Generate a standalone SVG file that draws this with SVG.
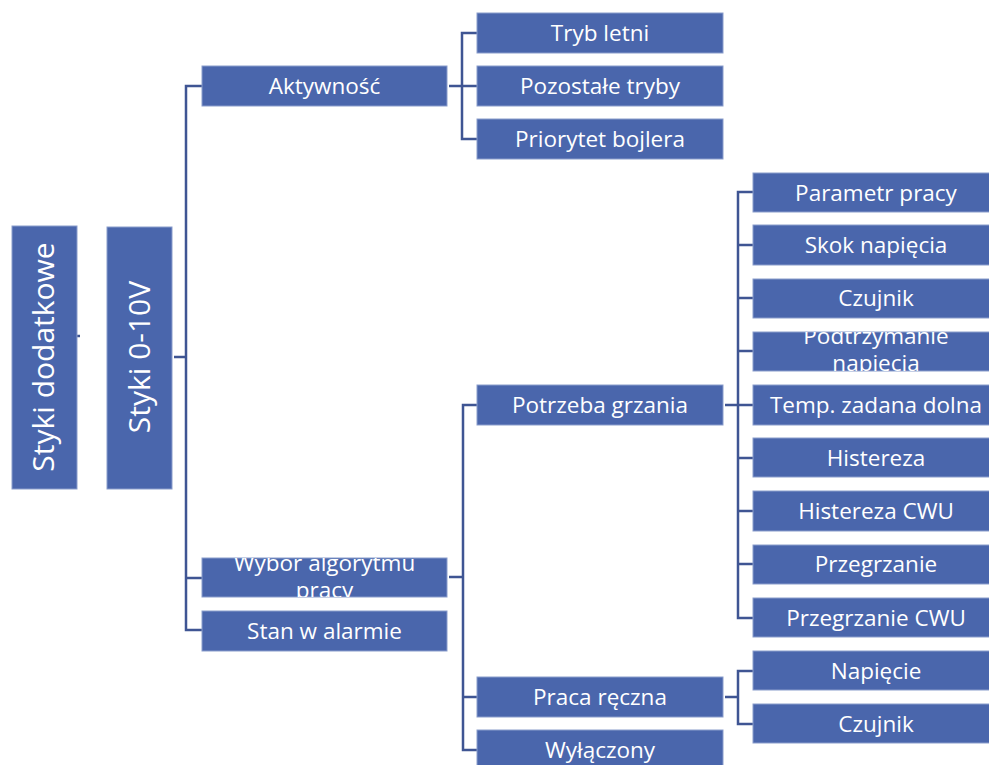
<svg xmlns="http://www.w3.org/2000/svg" width="989" height="765" viewBox="0 0 989 765">
<style>
.box{fill:#4a66ac;stroke:#8a9dcc;stroke-width:1}
.t{font-family:"Open Sans","Liberation Sans",sans-serif;font-size:22.5px;fill:#ffffff;text-anchor:middle}
.big{font-size:30px}
.c{fill:none;stroke:#3f5593;stroke-width:2.5}
</style>
<defs>
<clipPath id="cw"><rect x="202" y="558" width="245" height="39"/></clipPath>
<clipPath id="cp"><rect x="753" y="332" width="246" height="39"/></clipPath>
</defs>
<rect width="989" height="765" fill="#ffffff"/>
<g id="connectors">
<path class="c" d="M77 336H80"/>
<path class="c" d="M174 357H186M202 86H186V630H202M186 578H202"/>
<path class="c" d="M449 86H477M477 33H462V139H477"/>
<path class="c" d="M449 577H463M477 405H463V750H477M463 697H477"/>
<path class="c" d="M725 405H753M753 192H738V618H753M738 245H753M738 298H753M738 351H753M738 458H753M738 511H753M738 564H753"/>
<path class="c" d="M725 697H738M753 671H738V724H753"/>
</g>
<g id="styki-dodatkowe"><rect class="box" x="12" y="226" width="65" height="263"/><text class="t big" transform="translate(54 357) rotate(-90)">Styki dodatkowe</text></g>
<g id="styki-010v"><rect class="box" x="107" y="227" width="65" height="262"/><text class="t big" transform="translate(150 357) rotate(-90)">Styki 0-10V</text></g>
<g id="aktywnosc"><rect class="box" x="202" y="66" width="245" height="40"/><text class="t" x="324.5" y="94">Aktywność</text></g>
<g id="wybor"><rect class="box" x="202" y="558" width="245" height="39"/><g clip-path="url(#cw)"><text class="t" x="324.5" y="571">Wybor algorytmu</text><text class="t" x="324.5" y="598">pracy</text></g></g>
<g id="stan"><rect class="box" x="202" y="611" width="245" height="40"/><text class="t" x="324.5" y="639">Stan w alarmie</text></g>
<g id="tryb-letni"><rect class="box" x="477" y="13" width="246" height="40"/><text class="t" x="600" y="41">Tryb letni</text></g>
<g id="pozostale"><rect class="box" x="477" y="66" width="246" height="40"/><text class="t" x="600" y="94">Pozostałe tryby</text></g>
<g id="priorytet"><rect class="box" x="477" y="119" width="246" height="40"/><text class="t" x="600" y="147">Priorytet bojlera</text></g>
<g id="potrzeba"><rect class="box" x="477" y="385" width="246" height="40"/><text class="t" x="600" y="413">Potrzeba grzania</text></g>
<g id="praca-reczna"><rect class="box" x="477" y="677" width="246" height="40"/><text class="t" x="600" y="705">Praca ręczna</text></g>
<g id="wylaczony"><rect class="box" x="477" y="730" width="246" height="40"/><text class="t" x="600" y="758">Wyłączony</text></g>
<g id="parametr"><rect class="box" x="753" y="173" width="246" height="39"/><text class="t" x="876" y="201">Parametr pracy</text></g>
<g id="skok"><rect class="box" x="753" y="225" width="246" height="40"/><text class="t" x="876" y="253">Skok napięcia</text></g>
<g id="czujnik1"><rect class="box" x="753" y="279" width="246" height="39"/><text class="t" x="876" y="306">Czujnik</text></g>
<g id="podtrzymanie"><rect class="box" x="753" y="332" width="246" height="39"/><g clip-path="url(#cp)"><text class="t" x="876" y="344">Podtrzymanie</text><text class="t" x="876" y="371">napięcia</text></g></g>
<g id="temp"><rect class="box" x="753" y="385" width="246" height="40"/><text class="t" x="876" y="413">Temp. zadana dolna</text></g>
<g id="histereza"><rect class="box" x="753" y="438" width="246" height="39"/><text class="t" x="876" y="466">Histereza</text></g>
<g id="histereza-cwu"><rect class="box" x="753" y="491" width="246" height="40"/><text class="t" x="876" y="519">Histereza CWU</text></g>
<g id="przegrzanie"><rect class="box" x="753" y="545" width="246" height="39"/><text class="t" x="876" y="572">Przegrzanie</text></g>
<g id="przegrzanie-cwu"><rect class="box" x="753" y="598" width="246" height="39"/><text class="t" x="876" y="626">Przegrzanie CWU</text></g>
<g id="napiecie"><rect class="box" x="753" y="651" width="246" height="39"/><text class="t" x="876" y="679">Napięcie</text></g>
<g id="czujnik2"><rect class="box" x="753" y="704" width="246" height="39"/><text class="t" x="876" y="732">Czujnik</text></g>
</svg>
